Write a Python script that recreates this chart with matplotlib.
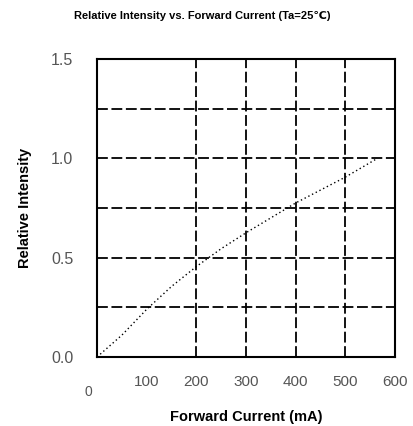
import matplotlib
matplotlib.use("Agg")
import matplotlib.pyplot as plt

# curve
current_ma = [0, 50, 100, 150, 200, 250, 300, 350, 400, 450, 500, 565]
rel_intensity = [0, 0.11, 0.24, 0.355, 0.455, 0.545, 0.625, 0.70, 0.775, 0.84, 0.905, 1.0]

x_ticks = [100, 200, 300, 400, 500, 600]
x_tick_labels = ["100", "200", "300", "400", "500", "600"]
y_ticks = [0.0, 0.5, 1.0, 1.5]
y_tick_labels = ["0.0", "0.5", "1.0", "1.5"]
v_grid = [200, 300, 400, 500]
h_grid = [0.25, 0.5, 0.75, 1.0, 1.25]

plt.rcParams['font.family'] = ['Liberation Sans', 'DejaVu Sans']

fig = plt.figure(figsize=(4.13, 4.26), dpi=100)
ax = fig.add_axes([0.235, 0.162, 0.721, 0.6995])

ax.hlines(h_grid, 0, 600, colors='black', linestyles=(0, (6, 2)), linewidth=1.3)
ax.vlines(v_grid, 0, 1.5, colors='black', linestyles=(0, (6, 2)), linewidth=1.3)
ax.plot(current_ma, rel_intensity, color='black', linestyle=(0, (1, 2)), linewidth=1.0)

ax.set_xlim(0, 600)
ax.set_ylim(0, 1.5)
ax.set_xticks(x_ticks)
ax.set_xticklabels(x_tick_labels, color='#555555', fontsize=11)
ax.set_yticks(y_ticks)
ax.set_yticklabels(y_tick_labels, color='#555555', fontsize=11.5)
ax.tick_params(axis='x', length=0, pad=13)
ax.tick_params(axis='y', length=0, pad=17)
ax.annotate("0", xy=(0, 0), xycoords='data', xytext=(-6, -25), textcoords='offset points',
            ha='center', va='center', fontsize=10, color='#555555')

for s in ax.spines.values():
    s.set_linewidth(1.5)

ax.set_xlabel("Forward Current (mA)", fontsize=10.5, fontweight='bold', labelpad=15,
              fontstretch='condensed')
ax.set_ylabel("Relative Intensity", fontsize=10.5, fontweight='bold', labelpad=14)
fig.text(0.49, 0.962, "Relative Intensity vs. Forward Current (Ta=25\u2103)",
         ha='center', va='center', fontsize=8, fontweight='bold')

fig.savefig("out.png", dpi=100)
